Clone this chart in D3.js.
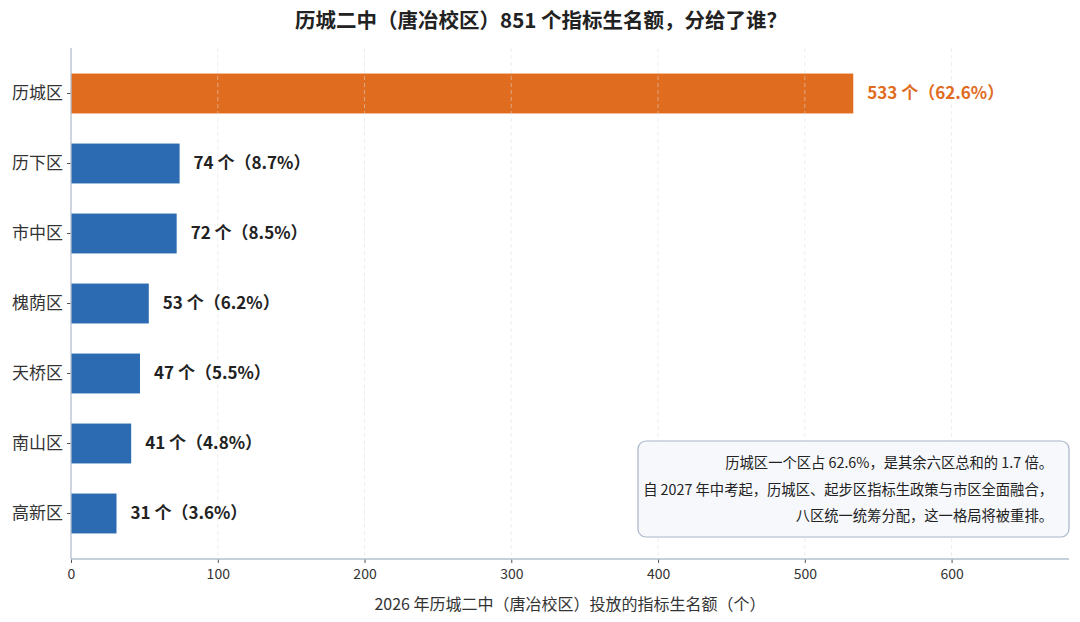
<!DOCTYPE html>
<html>
<head>
<meta charset="utf-8">
<script src="https://cdn.jsdelivr.net/npm/d3@7"></script>
<style>
  body { margin: 0; background: #fff; }
  svg { font-family: "Noto Sans CJK SC", "Noto Sans", sans-serif; }
</style>
</head>
<body>
<svg id="chart" width="1080" height="622"></svg>
<script>
// data
const districts = ["历城区", "历下区", "市中区", "槐荫区", "天桥区", "南山区", "高新区"];
const quotas = [533, 74, 72, 53, 47, 41, 31];
const shares = ["62.6%", "8.7%", "8.5%", "6.2%", "5.5%", "4.8%", "3.6%"];
const xTicks = [0, 100, 200, 300, 400, 500, 600];
const noteLines = [
    "历城区一个区占 62.6%，是其余六区总和的 1.7 倍。",
    "自 2027 年中考起，历城区、起步区指标生政策与市区全面融合，",
    "八区统一统筹分配，这一格局将被重排。"
];

const data = districts.map((d, i) => ({ name: d, value: quotas[i], share: shares[i] }));

const svg = d3.select("#chart");
const plotLeft = 71, plotRight = 1069, plotTop = 48, plotBottom = 559;

const x = d3.scaleLinear().domain([0, 680]).range([plotLeft, plotRight]);
const y = d3.scaleBand().domain(districts).range([plotTop, plotBottom])
    .paddingInner(0.43).paddingOuter(0.365);

// title
svg.append("text")
    .attr("x", 541).attr("y", 28)
    .attr("text-anchor", "middle")
    .style("font-size", "20.5px").style("font-weight", "bold").style("fill", "#222")
    .text("历城二中（唐冶校区）851 个指标生名额，分给了谁？");

// bars
svg.append("g").selectAll("rect")
    .data(data)
    .enter().append("rect")
    .attr("x", x(0))
    .attr("y", d => y(d.name))
    .attr("width", d => x(d.value) - x(0))
    .attr("height", y.bandwidth())
    .style("fill", (d, i) => i === 0 ? "#E06C1F" : "#2C6BB1");

// dashed grid, drawn over the bars (very faint)
svg.append("g").selectAll("line")
    .data(xTicks.slice(1))
    .enter().append("line")
    .attr("x1", d => x(d)).attr("x2", d => x(d))
    .attr("y1", plotTop).attr("y2", plotBottom)
    .style("stroke", "#d9dde4").style("stroke-opacity", 0.5)
    .style("stroke-dasharray", "4,3").style("stroke-width", 1);

// value labels
svg.append("g").selectAll("text")
    .data(data)
    .enter().append("text")
    .attr("x", d => x(d.value) + 14)
    .attr("y", d => y(d.name) + y.bandwidth() / 2)
    .attr("dy", "0.35em")
    .style("font-size", "17px").style("font-weight", "bold")
    .style("fill", (d, i) => i === 0 ? "#E06C1F" : "#222")
    .text(d => d.value + " 个（" + d.share + "）");

// x axis
const xAxis = svg.append("g")
    .attr("transform", "translate(0," + plotBottom + ")")
    .call(d3.axisBottom(x).tickValues(xTicks).tickSize(4).tickPadding(6));
xAxis.select(".domain").remove();
xAxis.append("line").attr("x1", plotLeft).attr("x2", plotRight)
    .style("stroke", "#b3bfd1").style("stroke-width", 1.3);
xAxis.selectAll(".tick line").style("stroke", "#555");
xAxis.selectAll(".tick text").style("font-size", "14px").style("fill", "#333")
    .style("font-family", "'Noto Sans CJK SC', sans-serif");

// y axis
const yAxis = svg.append("g")
    .attr("transform", "translate(" + plotLeft + ",0)")
    .call(d3.axisLeft(y).tickSize(4).tickPadding(4));
yAxis.select(".domain").remove();
yAxis.append("line").attr("y1", plotTop).attr("y2", plotBottom)
    .style("stroke", "#b3bfd1").style("stroke-width", 1.3);
yAxis.selectAll(".tick line").style("stroke", "#555");
yAxis.selectAll(".tick text").style("font-size", "17px").style("fill", "#333")
    .style("font-family", "'Noto Sans CJK SC', sans-serif");

// x axis label
svg.append("text")
    .attr("x", (plotLeft + plotRight) / 2).attr("y", 610)
    .attr("text-anchor", "middle")
    .style("font-size", "16px").style("fill", "#333")
    .text("2026 年历城二中（唐冶校区）投放的指标生名额（个）");

// note box
const note = svg.append("g");
note.append("rect")
    .attr("x", 638).attr("y", 441).attr("width", 431).attr("height", 96)
    .attr("rx", 8).attr("ry", 8)
    .style("fill", "#f6f8fb").style("stroke", "#a9b5c8").style("stroke-width", 1.2);
note.selectAll("text")
    .data(noteLines)
    .enter().append("text")
    .attr("x", 1053)
    .attr("y", (d, i) => 468 + i * 26.5)
    .attr("text-anchor", "end")
    .style("font-size", "14.3px").style("fill", "#222")
    .text(d => d);
</script>
</body>
</html>
